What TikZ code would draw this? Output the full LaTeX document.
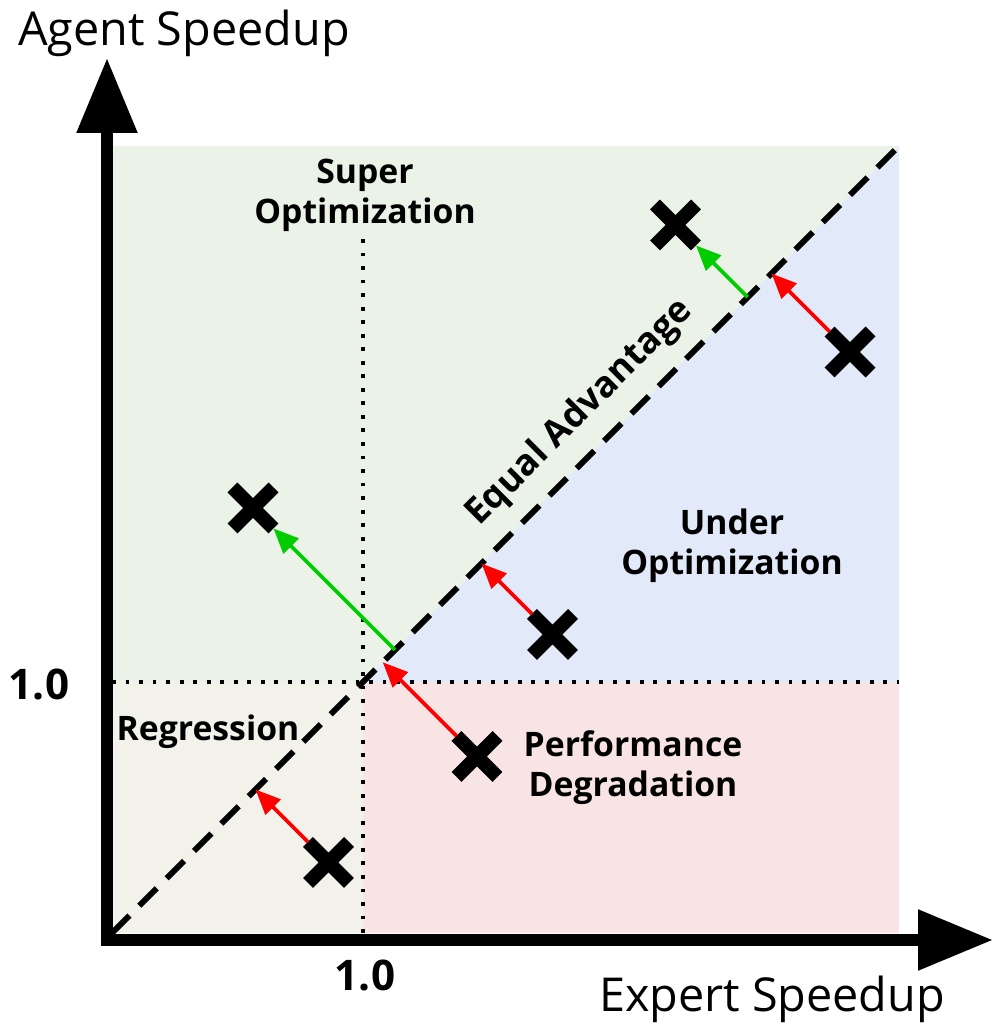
\documentclass[tikz,border=0pt]{standalone}
\usepackage{fontspec}
\setmainfont{Open Sans}
\usetikzlibrary{arrows.meta,calc,shapes.misc}

\definecolor{superfill}{RGB}{235,242,231}
\definecolor{underfill}{RGB}{226,234,249}
\definecolor{degradefill}{RGB}{249,228,229}
\definecolor{regressfill}{RGB}{242,242,234}
\definecolor{gainline}{RGB}{0,204,0}

\begin{document}
\begin{tikzpicture}[
        axis line/.style={line width=1.2mm, -{Triangle[length=7.5mm, width=5.8mm]}},
        dotted line/.style={line width=1.1pt, dash pattern=on 1.1pt off 2.75pt},
        equal line/.style={line width=1.7pt, dash pattern=on 7pt off 4pt},
        xmark/.style={cross out, draw, line width=1.4mm, minimum size=2.7mm, inner sep=0pt},
        better/.style={gainline, line width=1.1pt, -{Triangle[length=2.5mm, width=2.1mm]}},
        worse/.style={red, line width=1.1pt, -{Triangle[length=2.5mm, width=2.1mm]}},
        region/.style={font=\bfseries\fontsize{9.6}{11.4}\selectfont, align=center},
        axis label/.style={font=\fontsize{13.3}{15}\selectfont},
        tick label/.style={font=\bfseries\fontsize{12}{14}\selectfont}
    ]
    \useasboundingbox (-1.12,-0.94) rectangle (8.81,9.33);

    \coordinate (o) at (0,0);
    \coordinate (one) at (2.51,2.51);
    \coordinate (top) at (7.87,7.87);

    \fill[regressfill] (o) rectangle (one);
    \fill[degradefill] (2.51,0) rectangle (7.87,2.51);
    \fill[superfill] (0,2.51) -- (0,7.87) -- (top) -- (one) -- cycle;
    \fill[underfill] (one) -- (top) -- (7.87,2.51) -- cycle;

    \draw[dotted line] (2.51,0) -- (2.51,6.95);
    \draw[dotted line] (0,2.51) -- (7.87,2.51);
    \draw[equal line] (o) -- (top);

    \draw[axis line] (-0.05,-0.13) -- (-0.05,8.75);
    \draw[axis line] (-0.11,-0.07) -- (8.81,-0.07);

    \node[axis label] (ylab) at (0.72,9.00) {Agent Speedup};
    \node[axis label] (xlab) at (6.60,-0.66) {Expert Speedup};
    \node[tick label] (yone) at (-0.73,2.49) {1.0};
    \node[tick label] (xone) at (2.53,-0.42) {1.0};

    \node[region] (superopt) at (2.53,7.38) {Super\\Optimization};
    \node[region] (regress) at (0.96,2.01) {Regression};
    \node[region] (underopt) at (6.20,3.87) {Under\\Optimization};
    \node[region] (degrade) at (5.21,1.65) {Performance\\Degradation};
    \node[region, font=\bfseries\fontsize{10.3}{12}\selectfont, rotate=45] (equal) at (4.68,5.20) {Equal Advantage};

    \node[xmark] (pa) at (5.635,7.08) {};
    \node[xmark] (pb) at (7.38,5.81) {};
    \node[xmark] (pc) at (1.41,4.25) {};
    \node[xmark] (pd) at (4.405,2.985) {};
    \node[xmark] (pe) at (3.65,1.765) {};
    \node[xmark] (pf) at (2.165,0.705) {};

    \coordinate (da) at ($(o)!(pa)!(top)$);
    \coordinate (db) at ($(o)!(pb)!(top)$);
    \coordinate (dc) at ($(o)!(pc)!(top)$);
    \coordinate (dd) at ($(o)!(pd)!(top)$);
    \coordinate (de) at ($(o)!(pe)!(top)$);
    \coordinate (df) at ($(o)!(pf)!(top)$);

    \draw[better] (da) -- (pa);
    \draw[better] (dc) -- (pc);
    \draw[worse] (pb) -- (db);
    \draw[worse] (pd) -- (dd);
    \draw[worse] (pe) -- (de);
    \draw[worse] (pf) -- (df);
\end{tikzpicture}
\end{document}
